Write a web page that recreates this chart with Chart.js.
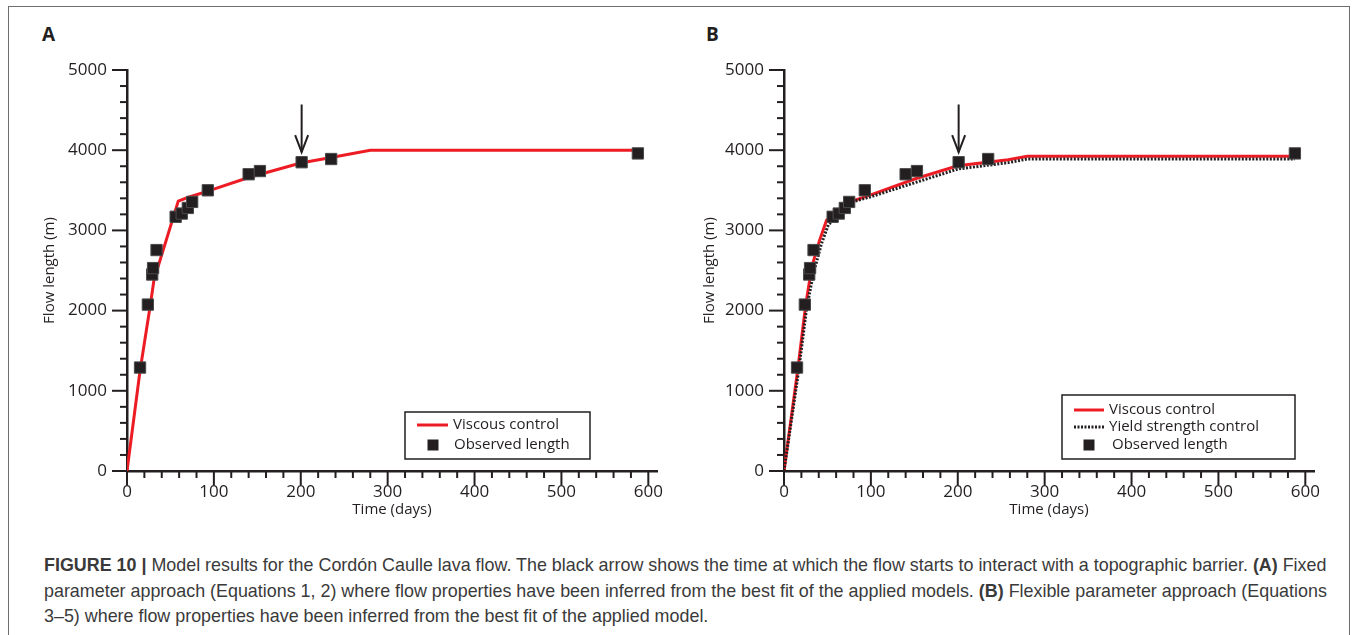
<!DOCTYPE html>
<html>
<head>
<meta charset="utf-8">
<script src="https://cdn.jsdelivr.net/npm/chart.js@4.4.1/dist/chart.umd.min.js"></script>
<style>
html, body { margin: 0; padding: 0; background: #fff; }
body { width: 1357px; height: 635px; position: relative; overflow: hidden; font-family: 'Open Sans', sans-serif; color: #231f20; }
#frame { position: absolute; left: 8px; top: 6px; width: 1342px; height: 680px; border: 1px solid #6d6e71; box-sizing: border-box; }
.panel { position: absolute; top: 0; }
#panelA { left: 0; }
#panelB { left: 680px; }
.letter { position: absolute; top: 21px; font-weight: 700; font-size: 19px; }
#caption { position: absolute; left: 44px; top: 553px; font-family: 'Liberation Sans', Arial, sans-serif; font-size: 17.9px; line-height: 25.5px; color: #3a3a3a; white-space: nowrap; }
</style>
</head>
<body>
<div id="frame"></div>
<div class="letter" style="left:42px">A</div>
<div class="letter" style="left:706px">B</div>
<canvas id="panelA" class="panel" width="680" height="530"></canvas>
<canvas id="panelB" class="panel" width="677" height="530"></canvas>
<div id="caption">
<b>FIGURE 10 |</b> Model results for the Cordón Caulle lava flow. The black arrow shows the time at which the flow starts to interact with a topographic barrier. <b>(A)</b> Fixed<br>
parameter approach (Equations 1, 2) where flow properties have been inferred from the best fit of the applied models. <b>(B)</b> Flexible parameter approach (Equations<br>
3–5) where flow properties have been inferred from the best fit of the applied model.
</div>
<script>
// observed lava flow length (both panels)
var obsDays   = [15, 24, 29, 30, 34, 56, 63, 70, 75, 93, 140, 153, 201, 235, 588];
var obsLength = [1290, 2075, 2450, 2530, 2755, 3170, 3210, 3280, 3355, 3500, 3700, 3740, 3850, 3890, 3960];

// panel A, viscous control
var viscADays   = [0, 15, 27, 31, 59, 70, 93, 140, 200, 235, 280, 588];
var viscALength = [0, 1250, 2080, 2380, 3365, 3410, 3490, 3660, 3840, 3910, 4000, 4000];

// panel B, viscous control and yield strength control
var viscBDays    = [0, 16, 25, 32, 41, 49, 76, 99, 152, 200, 258, 280, 588];
var viscBLength  = [0, 1280, 2073, 2546, 2879, 3128, 3356, 3440, 3647, 3805, 3880, 3925, 3925];
var yieldBDays   = [0, 17, 26, 34, 43, 51, 80, 100, 152, 200, 258, 280, 588];
var yieldBLength = [0, 1260, 2030, 2470, 2830, 3070, 3360, 3420, 3600, 3765, 3845, 3890, 3890];

var xTickLabels = [0, 100, 200, 300, 400, 500, 600];
var yTickLabels = [0, 1000, 2000, 3000, 4000, 5000];
var xMinorStep = 20, yMinorStep = 200;

// arrow: barrier interaction
var arrowDay = 201, arrowTop = 4570, arrowTip = 3975;

var axisColor = '#231f20';
var red = '#ed1c24';

function pts(xs, ys){
    return xs.map(function(x, i){ return {x: x, y: ys[i]}; });
}

var tickMarks = {
    id: 'tickMarks',
    afterDraw: function(chart){
        var ctx = chart.ctx, xs = chart.scales.x, ys = chart.scales.y, a = chart.chartArea;
        ctx.save();
        ctx.strokeStyle = axisColor;
        ctx.lineWidth = 2;
        for(var v = 0; v <= 600; v += xMinorStep){
            var px = xs.getPixelForValue(v);
            var len = (v % 100 === 0) ? 14 : 7;
            ctx.beginPath(); ctx.moveTo(px, a.bottom); ctx.lineTo(px, a.bottom + len); ctx.stroke();
        }
        for(var w = 0; w <= 5000; w += yMinorStep){
            var py = ys.getPixelForValue(w);
            var l2 = (w % 1000 === 0) ? 15 : 7;
            ctx.beginPath(); ctx.moveTo(a.left, py); ctx.lineTo(a.left - l2, py); ctx.stroke();
        }
        ctx.restore();
    }
};

var arrow = {
    id: 'arrow',
    afterDatasetsDraw: function(chart){
        var ctx = chart.ctx, xs = chart.scales.x, ys = chart.scales.y;
        var x = xs.getPixelForValue(arrowDay), y0 = ys.getPixelForValue(arrowTop), y1 = ys.getPixelForValue(arrowTip);
        ctx.save();
        ctx.strokeStyle = axisColor;
        ctx.lineWidth = 2;
        ctx.beginPath(); ctx.moveTo(x, y0); ctx.lineTo(x, y1); ctx.stroke();
        ctx.beginPath(); ctx.moveTo(x - 6.5, y1 - 17); ctx.lineTo(x, y1); ctx.lineTo(x + 6.5, y1 - 17); ctx.stroke();
        ctx.restore();
    }
};

var boxLegend = {
    id: 'boxLegend',
    afterDraw: function(chart, args, opts){
        var ctx = chart.ctx, a = chart.chartArea;
        var bx = a.right - opts.offRight, by = a.bottom - opts.offBottom;
        ctx.save();
        ctx.strokeStyle = axisColor;
        ctx.lineWidth = 1.5;
        ctx.strokeRect(bx, by, opts.w, opts.h);
        ctx.font = '15px "Open Sans"';
        ctx.fillStyle = axisColor;
        ctx.textBaseline = 'middle';
        opts.items.forEach(function(it){
            var y = by + it.dy;
            if(it.kind === 'rect'){
                ctx.fillStyle = axisColor;
                ctx.fillRect(bx + it.x0 - 5.5, y - 5.5, 11, 11);
            } else {
                ctx.strokeStyle = it.color;
                ctx.lineWidth = 3;
                ctx.setLineDash(it.dash || []);
                ctx.beginPath(); ctx.moveTo(bx + it.x0, y); ctx.lineTo(bx + it.x1, y); ctx.stroke();
                ctx.setLineDash([]);
            }
            ctx.fillStyle = axisColor;
            ctx.fillText(it.text, bx + it.tx, y);
        });
        ctx.restore();
    }
};

function observedSet(){
    return {
        label: 'Observed length',
        data: pts(obsDays, obsLength),
        pointStyle: 'rect',
        pointRadius: 8,
        backgroundColor: axisColor,
        borderColor: '#4a4a4a',
        borderWidth: 1,
        showLine: false
    };
}

function lineSet(label, xs, ys, color, dash){
    return {
        label: label,
        data: pts(xs, ys),
        showLine: true,
        pointRadius: 0,
        borderColor: color,
        borderWidth: 3,
        borderDash: dash || [],
        fill: false,
        tension: 0
    };
}

function plain(v){ return String(v); }

function makeChart(id, lines, legendOpts, yWidth, yTitlePad, rightPad){
    return new Chart(document.getElementById(id), {
        type: 'scatter',
        data: { datasets: [observedSet()].concat(lines) },
        options: {
            responsive: false,
            animation: false,
            layout: { padding: { left: 0, top: 70, right: rightPad, bottom: 0 } },
            plugins: {
                legend: { display: false },
                tooltip: { enabled: false },
                boxLegend: legendOpts
            },
            scales: {
                x: {
                    type: 'linear', min: 0, max: 610,
                    afterBuildTicks: function(s){ s.ticks = xTickLabels.map(function(v){ return {value: v}; }); },
                    afterFit: function(s){ s.height = 59; },
                    grid: { display: false, drawTicks: false },
                    border: { display: true, color: axisColor, width: 2.5 },
                    ticks: { callback: plain, font: { family: 'Open Sans', size: 17 }, color: axisColor, padding: 11, maxRotation: 0, autoSkip: false },
                    title: { display: true, text: 'Time (days)', font: { family: 'Open Sans', size: 15 }, color: axisColor, padding: { top: 0, bottom: 11 } }
                },
                y: {
                    min: 0, max: 5000,
                    afterBuildTicks: function(s){ s.ticks = yTickLabels.map(function(v){ return {value: v}; }); },
                    afterFit: function(s){ s.width = yWidth; },
                    grid: { display: false, drawTicks: false },
                    border: { display: true, color: axisColor, width: 2.5 },
                    ticks: { callback: plain, font: { family: 'Open Sans', size: 17 }, color: axisColor, padding: 20, autoSkip: false },
                    title: { display: true, text: 'Flow length (m)', font: { family: 'Open Sans', size: 15 }, color: axisColor, padding: { top: yTitlePad, bottom: 0 } }
                }
            }
        },
        plugins: [tickMarks, arrow, boxLegend]
    });
}

makeChart('panelA', [lineSet('Viscous control', viscADays, viscALength, red)], {
    offRight: 252, offBottom: 59, w: 185, h: 47,
    items: [
        { kind: 'line', color: red, x0: 12, x1: 43, tx: 48, dy: 13, text: 'Viscous control' },
        { kind: 'rect', x0: 28, tx: 49, dy: 33, text: 'Observed length' }
    ]
}, 127, 41, 23);

makeChart('panelB', [
    lineSet('Yield strength control', yieldBDays, yieldBLength, axisColor, [2, 1.5]),
    lineSet('Viscous control', viscBDays, viscBLength, red)
], {
    offRight: 252, offBottom: 76, w: 233, h: 64,
    items: [
        { kind: 'line', color: red, x0: 12, x1: 42, tx: 47, dy: 15, text: 'Viscous control' },
        { kind: 'line', color: axisColor, dash: [2, 1.5], x0: 12, x1: 42, tx: 47, dy: 32, text: 'Yield strength control' },
        { kind: 'rect', x0: 27, tx: 50, dy: 50, text: 'Observed length' }
    ]
}, 104, 21, 43);
</script>
</body>
</html>
